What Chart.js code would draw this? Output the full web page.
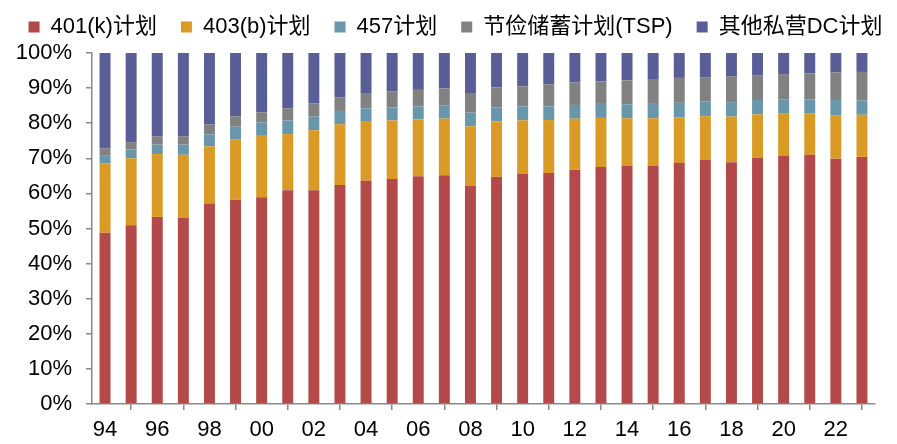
<!DOCTYPE html>
<html>
<head>
<meta charset="utf-8">
<script src="https://cdn.jsdelivr.net/npm/chart.js@4/dist/chart.umd.min.js"></script>
<style>
  html, body { margin: 0; padding: 0; background: #fff; }
  #wrap { width: 897px; height: 444px; }
</style>
</head>
<body>
<div id="wrap"><canvas id="planChart" width="897" height="444"></canvas></div>
<script>
// Years (two-digit labels), 1994-2023
const years = ['94','95','96','97','98','99','00','01','02','03','04','05','06','07','08',
               '09','10','11','12','13','14','15','16','17','18','19','20','21','22','23'];

// Share of assets per plan type (%), each year sums to 100
const plan401k = [48.8, 50.9, 53.3, 53.0, 57.1, 58.2, 58.9, 60.9, 60.9, 62.4, 63.6, 64.1, 64.9, 65.2, 62.1,
                  64.7, 65.5, 65.8, 66.7, 67.5, 67.8, 67.8, 68.7, 69.5, 68.9, 70.1, 70.7, 71.0, 69.9, 70.4];
const plan403b = [19.7, 19.1, 17.9, 18.0, 16.3, 17.1, 17.5, 16.0, 17.1, 17.3, 16.8, 16.7, 16.2, 16.1, 17.0,
                  15.8, 15.3, 15.1, 14.6, 14.0, 13.6, 13.6, 12.9, 12.5, 13.0, 12.4, 12.0, 11.7, 12.4, 12.0];
const plan457 = [2.4, 2.5, 2.7, 2.9, 3.4, 3.7, 3.8, 3.9, 3.9, 3.8, 3.8, 3.7, 3.7, 3.7, 3.9,
                 4.0, 4.0, 3.9, 3.9, 4.0, 4.0, 4.1, 4.2, 4.2, 4.1, 4.1, 4.0, 4.1, 4.3, 4.1];
const planTSP = [2.0, 2.1, 2.4, 2.4, 2.8, 2.9, 2.9, 3.4, 3.7, 3.9, 4.4, 4.5, 4.7, 4.9, 5.6,
                 5.7, 5.7, 6.3, 6.4, 6.4, 6.8, 7.1, 7.1, 6.9, 7.4, 7.1, 7.3, 7.4, 7.9, 8.1];
const planOtherDC = [27.1, 25.4, 23.7, 23.7, 20.4, 18.1, 16.9, 15.8, 14.4, 12.6, 11.4, 11.0, 10.5, 10.1, 11.4,
                     9.8, 9.5, 8.9, 8.4, 8.1, 7.8, 7.4, 7.1, 6.9, 6.6, 6.3, 6.0, 5.8, 5.5, 5.4];

const yTicks = [0, 10, 20, 30, 40, 50, 60, 70, 80, 90, 100];

const FONT = "Arial, 'Liberation Sans', 'Noto Sans CJK SC', sans-serif";
const AXIS = '#898989';

function series(label, data, color) {
    return {
        label: label,
        data: data,
        backgroundColor: color,
        borderWidth: 0,
        barPercentage: 0.42,
        categoryPercentage: 1.0
    };
}

// keep the legend on one row, fix its height so the plot area starts
// where the reference does, then nudge it up and right a little
const legendFit = {
    id: 'legendFit',
    beforeInit(chart) {
        const fit = chart.legend.fit;
        chart.legend.fit = function () {
            const mw = this.maxWidth;
            this.maxWidth = 1400;
            fit.bind(chart.legend)();
            this.maxWidth = mw;
            this.width = mw;
            this.height = 53;
        };
    },
    afterLayout(chart) {
        const lg = chart.legend;
        lg.top -= 8;
        lg.left += 18 - 150;
        lg.right += 18 + 150;
    }
};

new Chart(document.getElementById('planChart').getContext('2d'), {
    type: 'bar',
    data: {
        labels: years,
        datasets: [
            series('401(k)计划', plan401k, '#B4494A'),
            series('403(b)计划', plan403b, '#D99B25'),
            series('457计划', plan457, '#6896AA'),
            series('节俭储蓄计划(TSP)', planTSP, '#818181'),
            series('其他私营DC计划', planOtherDC, '#5A5E96')
        ]
    },
    options: {
        responsive: false,
        animation: false,
        layout: { padding: { left: 0, right: 22, top: 0, bottom: 0 } },
        plugins: {
            tooltip: { enabled: false },
            legend: {
                position: 'top',
                labels: {
                    boxWidth: 11,
                    boxHeight: 11,
                    padding: 24,
                    color: '#000',
                    font: { family: FONT, size: 22 }
                }
            }
        },
        scales: {
            x: {
                stacked: true,
                afterFit(scale) { scale.height = 40; },
                border: { display: true, color: AXIS, width: 1.5 },
                grid: {
                    offset: true,
                    drawOnChartArea: false,
                    drawTicks: true,
                    tickLength: 6,
                    color: AXIS,
                    lineWidth: 1.5
                },
                ticks: {
                    autoSkip: false,
                    maxRotation: 0,
                    padding: 7,
                    color: '#000',
                    font: { family: FONT, size: 22 },
                    callback: function (v, i) { return i % 2 === 0 ? years[i] : null; }
                }
            },
            y: {
                stacked: true,
                min: 0,
                max: 100,
                afterFit(scale) { scale.width = 92; },
                afterBuildTicks(scale) { scale.ticks = yTicks.map(v => ({ value: v })); },
                border: { display: true, color: AXIS, width: 1.5 },
                grid: {
                    drawOnChartArea: false,
                    drawTicks: true,
                    tickLength: 6,
                    color: AXIS,
                    lineWidth: 1.5
                },
                ticks: {
                    padding: 14,
                    color: '#000',
                    font: { family: FONT, size: 22 },
                    callback: v => v + '%'
                }
            }
        }
    },
    plugins: [legendFit]
});
</script>
</body>
</html>
